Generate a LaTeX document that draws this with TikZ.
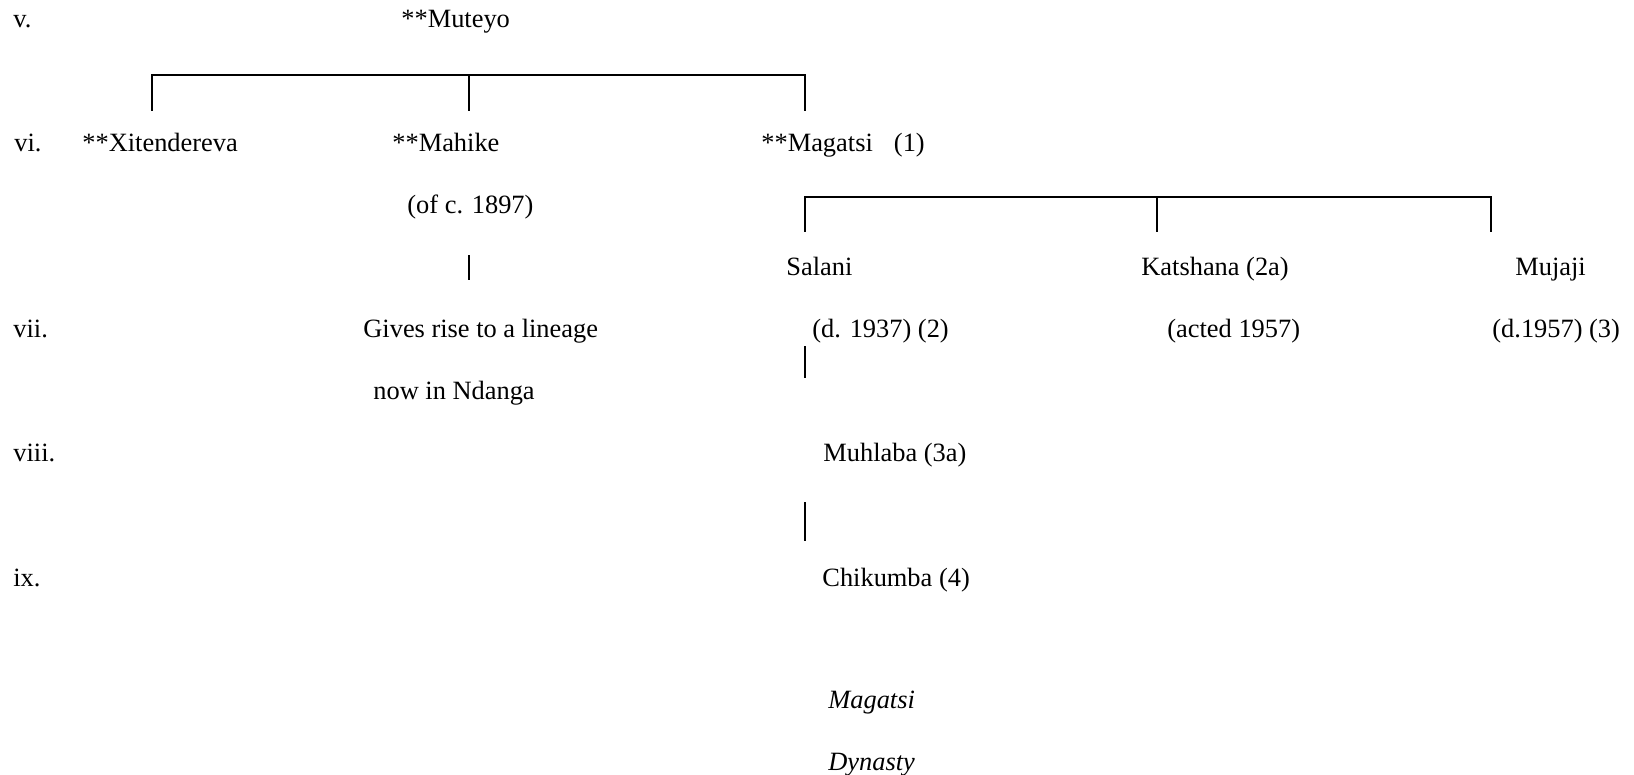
\documentclass[tikz,border=0pt]{standalone}
\usepackage{fontspec}
\setmainfont{Liberation Serif}
\begin{document}
\begin{tikzpicture}[x=0.5pt,y=-0.5pt,
  lbl/.style={anchor=base west, inner sep=0pt, font=\fontsize{13.2}{15}\selectfont},
  tree/.style={line width=0.9pt, line cap=rect}]
\useasboundingbox (0,0) rectangle (1634,775);
% generation labels
\node[lbl] (gv)    at (13,28)  {v.};
\node[lbl] (gvi)   at (14,152) {vi.};
\node[lbl] (gvii)  at (13,338) {vii.};
\node[lbl] (gviii) at (13,461) {viii.};
\node[lbl] (gix)   at (13,586) {ix.};
% people
\node[lbl] (muteyo)  at (401,28)  {**Muteyo};
\node[lbl] (xiten)   at (82,152)  {**Xitendereva};
\node[lbl] (mahike)  at (392,152) {**Mahike};
\node[lbl] (magatsi) at (761,152) {**Magatsi\hspace{0.8em}(1)};
\node[lbl] (mahiked) at (407,214) {(of c. 1897)};
\node[lbl] (salani)  at (786,276) {Salani};
\node[lbl] (katsh)   at (1141,276) {Katshana (2a)};
\node[lbl] (mujaji)  at (1515,276) {Mujaji};
\node[lbl] (gives)   at (363,338) {Gives rise to a lineage};
\node[lbl] (salanid) at (812,338) {(d. 1937) (2)};
\node[lbl] (katshd)  at (1167,338) {(acted 1957)};
\node[lbl] (mujajid) at (1492,338) {(d.1957) (3)};
\node[lbl] (ndanga)  at (373,400) {now in Ndanga};
\node[lbl] (muhlaba) at (823,461) {Muhlaba (3a)};
\node[lbl] (chik)    at (822,586) {Chikumba (4)};
\node[lbl] (dyn1)    at (828,708) {\itshape Magatsi};
\node[lbl] (dyn2)    at (828,770) {\itshape Dynasty};
% bracket 1 (Muteyo's children)
\coordinate (a1) at (152,75);  \coordinate (a1b) at (152,110);
\coordinate (a2) at (469,75);  \coordinate (a2b) at (469,110);
\coordinate (a3) at (805,75);  \coordinate (a3b) at (805,110);
\draw[tree] (a1b) -- (a1) -- (a3) -- (a3b);
\draw[tree] (a2) -- (a2b);
% bracket 2 (Magatsi's children)
\coordinate (c1) at (805,197);  \coordinate (c1b) at (805,231);
\coordinate (c2) at (1157,197); \coordinate (c2b) at (1157,231);
\coordinate (c3) at (1491,197); \coordinate (c3b) at (1491,231);
\draw[tree] (c1b) -- (c1) -- (c3) -- (c3b);
\draw[tree] (c2) -- (c2b);
% single descent ticks
\coordinate (m1) at (469,256); \coordinate (m2) at (469,279);
\draw[tree] (m1) -- (m2);
\coordinate (s1) at (805,347); \coordinate (s2) at (805,377);
\draw[tree] (s1) -- (s2);
\coordinate (h1) at (805,503); \coordinate (h2) at (805,540);
\draw[tree] (h1) -- (h2);
\end{tikzpicture}
\end{document}
